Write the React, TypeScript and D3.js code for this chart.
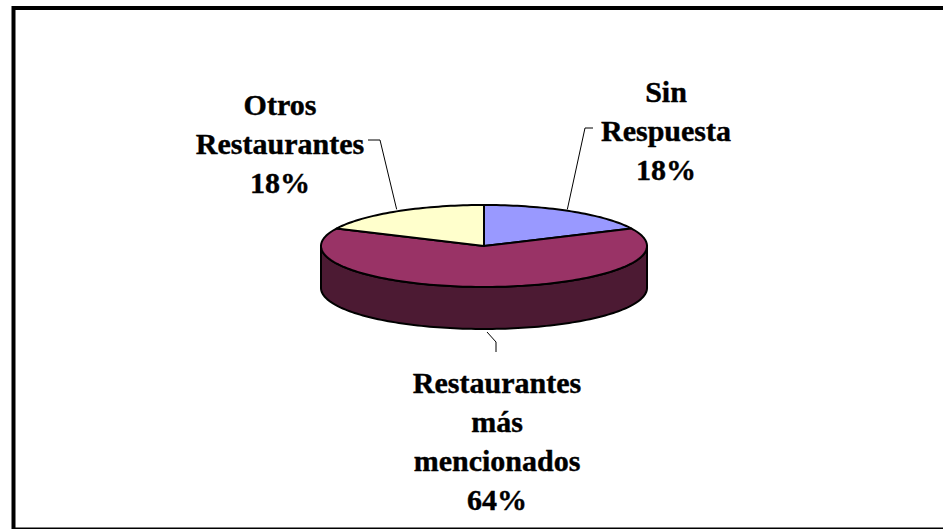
import React from "react";
import * as d3 from "d3";

const categories = ["Sin Respuesta", "Restaurantes más mencionados", "Otros Restaurantes"];
const values = [18, 64, 18];
const labelLines = [["Sin", "Respuesta", "18%"], ["Restaurantes", "más", "mencionados", "64%"], ["Otros", "Restaurantes", "18%"]];
const colors = ["#9999FF", "#993366", "#FFFFCC"];
const sideColors = ["#4D4D80", "#4C1A33", "#808066"];

const W = 943, H = 529;
const cx = 484, cy = 246, rx = 163, ry = 41, depth = 42;

const px = (a: number) => cx + rx * Math.sin(a);
const py = (a: number) => cy - ry * Math.cos(a);

function arcPoints(a0: number, a1: number, dy = 0): [number, number][] {
  const n = Math.max(2, Math.ceil(((a1 - a0) / (2 * Math.PI)) * 240));
  const pts: [number, number][] = [];
  for (let i = 0; i <= n; i++) {
    const a = a0 + ((a1 - a0) * i) / n;
    pts.push([px(a), py(a) + dy]);
  }
  return pts;
}

export default function App() {
  const pie = d3.pie<number>().sort(null).value((d) => d)(values);
  const line = d3.line<[number, number]>();

  const sides: { d: string; color: string }[] = [];
  pie.forEach((s, i) => {
    const a0 = Math.max(s.startAngle, Math.PI / 2);
    const a1 = Math.min(s.endAngle, (3 * Math.PI) / 2);
    if (a1 > a0) {
      const top = arcPoints(a0, a1);
      const bot = arcPoints(a0, a1, depth).reverse();
      sides.push({ d: line([...top, ...bot])! + "Z", color: sideColors[i] });
    }
  });

  const tops = pie.map((s, i) => {
    const pts: [number, number][] = [[cx, cy], ...arcPoints(s.startAngle, s.endAngle)];
    return { d: line(pts)! + "Z", color: colors[i] };
  });

  const fontSize = 30;
  const lh = 39;
  const labelPos = [
    { x: 666, y: 102 },
    { x: 497, y: 393 },
    { x: 280, y: 115 },
  ];

  const mid0 = (pie[0].startAngle + pie[0].endAngle) / 2;
  const mid2 = (pie[2].startAngle + pie[2].endAngle) / 2;
  const mid1 = (pie[1].startAngle + pie[1].endAngle) / 2;
  const leaders = [
    `M${px(mid0) - 4},${py(mid0) - 2}L585,128L593,128`,
    `M${px(mid1) + 3},${py(mid1) + depth + 3}L496,342L496,352`,
    `M${px(mid2)},${py(mid2) - 2}L380,140L368,140`,
  ];

  return (
    <svg width={W} height={H} style={{ position: "absolute", left: 0, top: 0, background: "#fff" }}>
      <rect x={13.5} y={8} width={960} height={521.5} fill="#fff" stroke="#000" strokeWidth={4} />
      {sides.map((s, i) => (
        <path key={"s" + i} d={s.d} fill={s.color} stroke="#000" strokeWidth={2} strokeLinejoin="round" />
      ))}
      {tops.map((t, i) => (
        <path key={"t" + i} d={t.d} fill={t.color} stroke="#000" strokeWidth={2} strokeLinejoin="round" />
      ))}
      {leaders.map((d, i) => (
        <path key={"l" + i} d={d} fill="none" stroke="#000" strokeWidth={1} />
      ))}
      {labelLines.map((lines, i) => (
        <text
          key={"lab" + i}
          textAnchor="middle"
          fontFamily="'Liberation Serif', 'Times New Roman', serif"
          fontWeight="bold"
          fontSize={fontSize}
          letterSpacing={0}
          fill="#000"
          stroke="#000"
          strokeWidth={0.4}
        >
          {lines.map((t, j) => (
            <tspan key={j} x={labelPos[i].x} y={labelPos[i].y + j * lh}>
              {t}
            </tspan>
          ))}
        </text>
      ))}
    </svg>
  );
}
